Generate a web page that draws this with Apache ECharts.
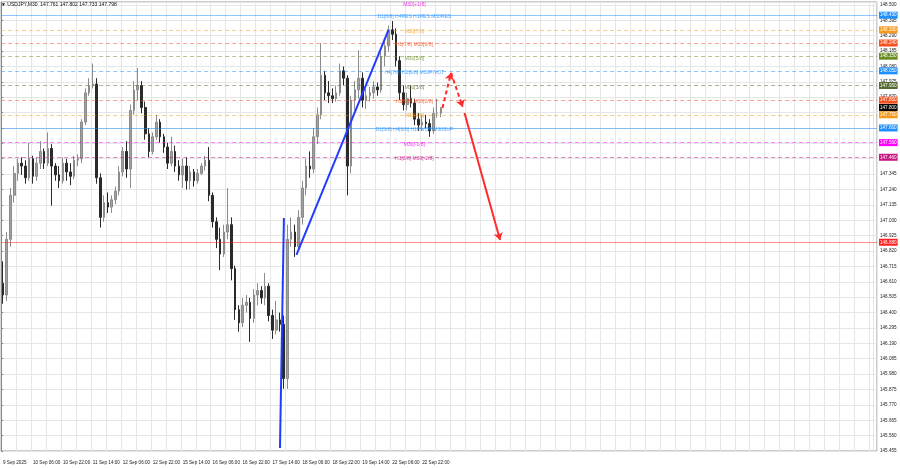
<!DOCTYPE html>
<html><head><meta charset="utf-8">
<script src="https://cdn.jsdelivr.net/npm/echarts@6/dist/echarts.min.js"></script>
<style>html,body{margin:0;padding:0;background:#fff}#c{width:900px;height:468px}</style>
</head><body><div id="c"></div>
<script>
const symbolTitle = 'USDJPY,M30';
const lastBar = [147.761, 147.802, 147.733, 147.798];
const dateLabels = ['9 Sep 2025','10 Sep 06:00','10 Sep 22:00','11 Sep 14:00','12 Sep 06:00','12 Sep 22:00','15 Sep 14:00','16 Sep 06:00','16 Sep 22:00','17 Sep 14:00','18 Sep 06:00','18 Sep 22:00','19 Sep 14:00','22 Sep 06:00','22 Sep 22:00'];
const candlesPerLabel = 8;   // 2-hour candles between date labels
const totalSlots = 234;      // candle slots across the plot, incl. empty future area

const opens = [146.60,146.52,146.90,147.20,147.35,147.42,147.40,147.32,147.45,147.33,
147.42,147.50,147.42,147.52,147.40,147.34,147.30,147.42,147.36,147.33,
147.44,147.45,147.70,147.90,147.95,147.96,147.32,147.05,147.15,147.12,
147.17,147.23,147.36,147.50,147.38,147.78,147.92,147.95,147.80,147.62,
147.50,147.60,147.70,147.60,147.53,147.42,147.50,147.40,147.34,147.40,
147.30,147.36,147.30,147.35,147.40,147.44,147.20,147.02,146.90,146.80,
146.95,147.00,146.70,146.42,146.33,146.45,146.47,146.36,146.52,146.55,
146.50,146.58,146.38,146.28,146.35,146.32,145.95,146.90,146.95,146.85,
147.05,147.25,147.40,147.38,147.60,147.75,148.02,147.90,147.88,147.86,
147.90,148.05,148.00,147.40,147.85,147.92,148.00,147.85,147.88,147.90,
147.94,147.92,148.15,148.22,148.33,148.30,148.12,147.90,147.82,147.86,
147.83,147.72,147.68,147.70,147.69,147.64,147.76,147.761];
const closes = [146.52,146.90,147.20,147.35,147.42,147.40,147.32,147.45,147.33,147.42,
147.50,147.42,147.52,147.40,147.34,147.30,147.42,147.36,147.33,147.44,
147.45,147.70,147.90,147.95,147.96,147.32,147.05,147.15,147.12,147.17,
147.23,147.36,147.50,147.38,147.78,147.92,147.95,147.80,147.62,147.50,
147.60,147.70,147.60,147.53,147.42,147.50,147.40,147.34,147.40,147.30,
147.36,147.30,147.35,147.40,147.44,147.20,147.02,146.90,146.80,146.95,
147.00,146.70,146.42,146.33,146.45,146.47,146.36,146.52,146.55,146.50,
146.58,146.38,146.28,146.35,146.32,145.95,146.90,146.95,146.85,147.05,
147.25,147.40,147.38,147.60,147.75,148.02,147.90,147.88,147.86,147.90,
148.05,148.00,147.40,147.85,147.92,148.00,147.85,147.88,147.90,147.94,
147.92,148.15,148.22,148.33,148.30,148.12,147.90,147.82,147.86,147.83,
147.72,147.68,147.70,147.69,147.64,147.76,147.761,147.798];
const highs = [146.75,146.95,147.25,147.40,147.45,147.46,147.44,147.56,147.47,147.46,
147.57,147.52,147.63,147.55,147.42,147.40,147.46,147.45,147.42,147.47,
147.48,147.72,147.93,148.00,148.10,148.00,147.35,147.20,147.22,147.20,
147.26,147.40,147.53,147.57,147.82,147.98,148.07,147.98,147.84,147.66,
147.63,147.75,147.72,147.62,147.56,147.60,147.54,147.44,147.45,147.46,
147.40,147.38,147.38,147.42,147.47,147.53,147.22,147.05,146.98,147.00,
147.25,147.05,146.72,146.45,146.50,146.52,146.50,146.56,146.60,146.58,
146.67,146.60,146.42,146.48,146.40,146.38,147.00,147.05,147.00,147.10,
147.30,147.45,147.50,147.66,147.80,148.24,148.05,147.98,147.93,147.95,
148.10,148.08,148.02,147.88,147.98,148.19,148.04,147.93,147.94,147.98,
147.97,148.18,148.26,148.36,148.39,148.34,148.15,147.95,147.90,147.95,
147.86,147.76,147.75,147.75,147.72,147.80,147.86,147.802];
const lows = [146.46,146.48,146.85,147.15,147.30,147.34,147.28,147.30,147.28,147.30,
147.38,147.38,147.40,147.13,147.30,147.25,147.28,147.30,147.27,147.31,
147.40,147.42,147.68,147.88,147.93,147.28,146.98,147.02,147.08,147.08,
147.14,147.20,147.33,147.32,147.25,147.75,147.85,147.76,147.58,147.46,
147.48,147.58,147.56,147.49,147.38,147.40,147.36,147.30,147.25,147.24,
147.24,147.26,147.28,147.34,147.37,147.16,146.98,146.84,146.69,146.78,
146.90,146.62,146.35,146.27,146.30,146.40,146.20,146.33,146.45,146.46,
146.45,146.34,146.22,146.25,146.27,145.88,145.88,146.85,146.78,146.82,
147.00,147.20,147.32,147.35,147.55,147.72,147.85,147.83,147.83,147.84,
147.88,147.95,147.20,147.35,147.78,147.86,147.80,147.79,147.84,147.86,
147.88,147.90,148.08,148.18,148.26,148.08,147.85,147.78,147.78,147.80,
147.68,147.64,147.64,147.66,147.60,147.62,147.73,147.733];

// Murrey-math style levels (right axis boxes + horizontal lines)
const levelPrices = [148.430,148.326,148.242,148.145,148.047,147.949,147.853,147.754,147.656,147.558,147.461,146.875];
const levelColors = ['#1e90ff','#f59a1b','#f4511e','#6b8e23','#1e90ff','#556b2f','#f4511e','#f59a1b','#1e90ff','#ff00ff','#c71585','#ff2020'];
const levelDashed = [false,true,true,true,true,true,true,true,false,true,true,false];
const currentPrice = 147.798;

const levelTexts = ['M30[+1/8]','D1[8/8] H4RES H1RES M30RES','M30[7/8]','H1[7/8] M30[6/8]','M30[5/8]','H4[7/8] H1[6/8] M30PIVOT','M30[3/8]','H1[5/8] M30[2/8]','M30[1/8]','D1[5/8] H4[6/8] H1PIVOT M30SUP','M30[-1/8]','H1[3/8] M30[-2/8]'];
const levelTextPrices = [148.512,148.430,148.326,148.242,148.145,148.047,147.949,147.853,147.754,147.656,147.558,147.461];
const levelTextColors = ['#ff00ff','#1e90ff','#f59a1b','#f4511e','#6b8e23','#1e90ff','#556b2f','#f4511e','#f59a1b','#1e90ff','#ff00ff','#c71585'];
const textSlot = 110.4;

// hand-drawn analysis lines: [slot, price]
const blueTrend1 = [[74.5,145.476],[75.55,147.046]];
const blueTrend2 = [[78.9,146.794],[103.5,148.329]];
const redDash1 = [[117.9,147.797],[120.2,148.036]];
const redDash2 = [[120.2,148.036],[123.3,147.804]];
const redSolid = [[123.8,147.763],[133.3,146.896]];

const categories = [];
for (let i = 0; i < totalSlots; i++) {
  const k = i / candlesPerLabel;
  categories.push(i % candlesPerLabel === 0 && k < dateLabels.length ? dateLabels[k] : '');
}
const candles = opens.map((o, i) => [o, closes[i], lows[i], highs[i]]);

function fade(hex, a) {
  const n = parseInt(hex.slice(1), 16);
  return 'rgba(' + ((n >> 16) & 255) + ',' + ((n >> 8) & 255) + ',' + (n & 255) + ',' + a + ')';
}

const FONT = 'Liberation Sans, Arial, sans-serif';
const markData = levelPrices.map((p, i) => ({
  yAxis: p,
  lineStyle: {color: fade(levelColors[i], 0.5), type: levelDashed[i] ? [4, 3] : 'solid', width: 1},
  label: {backgroundColor: levelColors[i]}
}));
markData.push({yAxis: currentPrice, lineStyle: {color: 'rgba(0,0,0,0)'}, label: {backgroundColor: '#000'}});

const chart = echarts.init(document.getElementById('c'), null, {renderer: 'canvas'});
chart.setOption({
  animation: false,
  backgroundColor: '#fff',
  title: {
    text: '\u25BC ' + symbolTitle + '  ' + lastBar.map(v => v.toFixed(3)).join(' '),
    left: 1, top: 2, padding: 0,
    textStyle: {fontSize: 5, fontWeight: 'normal', color: '#111', fontFamily: FONT}
  },
  grid: {left: 0, right: 23, top: 2, bottom: 17, show: true, borderColor: '#999', borderWidth: 1, containLabel: false},
  xAxis: [{
    type: 'category', data: categories, boundaryGap: true,
    axisLine: {show: false}, axisTick: {show: false},
    axisLabel: {interval: 0, align: 'left', fontSize: 4.6, color: '#222', margin: 9, fontFamily: FONT},
    splitLine: {show: true, interval: 3, lineStyle: {color: '#e6e6e6', width: 1}}
  }, {
    type: 'value', min: 0, max: totalSlots, show: false
  }],
  yAxis: [{
    type: 'value', position: 'right', min: 145.455, max: 148.52, interval: 0.105,
    axisLine: {show: true, lineStyle: {color: '#888'}},
    axisTick: {show: true, length: 2, lineStyle: {color: '#888'}},
    axisLabel: {fontSize: 4.6, color: '#222', margin: 3, showMaxLabel: false, fontFamily: FONT,
      formatter: v => v.toFixed(3)},
    splitLine: {show: true, lineStyle: {color: '#e6e6e6', width: 1}}
  }],
  series: [{
    type: 'candlestick', xAxisIndex: 0, yAxisIndex: 0, data: candles, barWidth: '55%',
    itemStyle: {color: '#a0a0a0', color0: '#2a2a2a', borderColor: '#8c8c8c', borderColor0: '#2a2a2a', borderWidth: 1},
    markLine: {
      silent: true, symbol: 'none', animation: false,
      label: {show: true, position: 'end', distance: 2, color: '#fff', fontSize: 4.6, padding: [1, 1, 1, 1],
        fontFamily: FONT, formatter: p => Number(p.value).toFixed(3)},
      data: markData
    }
  }, {
    type: 'scatter', xAxisIndex: 1, yAxisIndex: 0, symbolSize: 1, silent: true, z: 6,
    itemStyle: {color: 'rgba(0,0,0,0)'},
    data: levelTexts.map((t, i) => ({value: [textSlot, levelTextPrices[i]], name: t,
      label: {color: levelTextColors[i]}})),
    label: {show: true, position: 'inside', formatter: '{b}', fontSize: 5, offset: [0, 1.5], fontFamily: FONT}
  }, {
    type: 'lines', coordinateSystem: 'cartesian2d', xAxisIndex: 1, yAxisIndex: 0, z: 7, silent: true,
    symbol: ['none', 'none'],
    lineStyle: {color: '#1f3cff', width: 2, opacity: 1, curveness: 0},
    data: [{coords: blueTrend1}, {coords: blueTrend2}]
  }, {
    type: 'lines', coordinateSystem: 'cartesian2d', xAxisIndex: 1, yAxisIndex: 0, z: 7, silent: true,
    symbol: ['none', 'arrow'], symbolSize: 7,
    lineStyle: {color: '#ff2a2a', width: 2, opacity: 1, curveness: 0},
    data: [
      {coords: redDash1, lineStyle: {type: [4, 3]}},
      {coords: redDash2, lineStyle: {type: [4, 3]}},
      {coords: redSolid}
    ]
  }]
});
</script></body></html>
